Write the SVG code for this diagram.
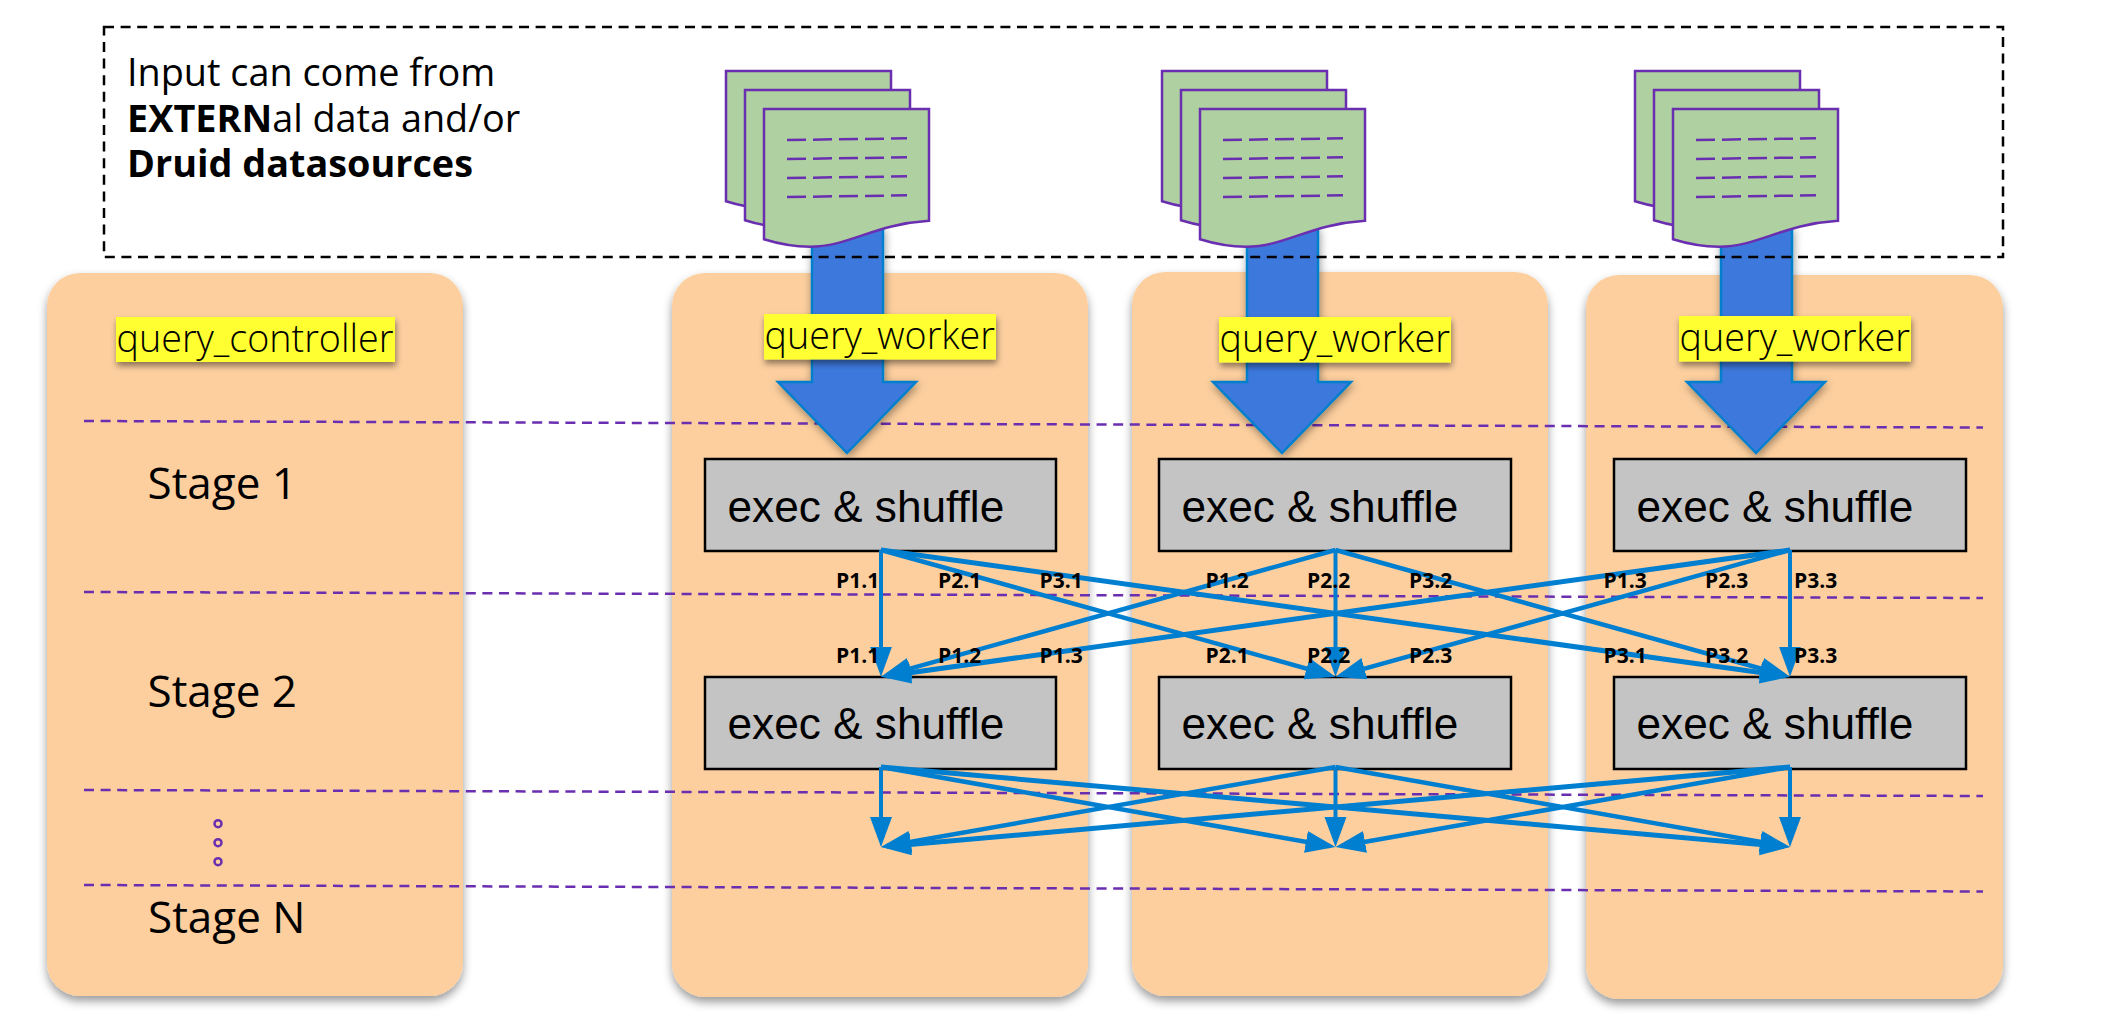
<svg xmlns="http://www.w3.org/2000/svg" width="2128" height="1016" viewBox="0 0 2128 1016">
<style>
.card{fill:#FDCF9E;filter:url(#cs)}
.box{fill:#C4C4C4;stroke:#000;stroke-width:2.5}
.tag{fill:#FFFF33;filter:url(#ts)}
.bigarrow{fill:#3C78DC;stroke:#0080CC;stroke-width:2.5;filter:url(#as)}
.doc{fill:#AFD0A0;stroke:#6A2FB0;stroke-width:2.5}
.rows{fill:none;stroke:#6A2FB0;stroke-width:2.5;stroke-dasharray:19 7}
.div{stroke:#6A2FB0;stroke-width:2.5;stroke-dasharray:10 6.6;fill:none}
.tagt{font:300 37.7px "Open Sans",sans-serif;fill:#000}
.body{font:400 37.8px "Open Sans",sans-serif;fill:#000}
.stage{font:400 44px "Open Sans",sans-serif;fill:#000}
.exec{font:400 44.2px "Liberation Sans",sans-serif;fill:#000}
.p{font:700 21px "Open Sans",sans-serif;fill:#000}
.c{stroke:#007FD0;stroke-width:4.5;fill:none;marker-end:url(#ah)}
.v{stroke-width:4}
.l{stroke-width:5}
</style>
<defs>
<filter id="cs" x="-10%" y="-10%" width="120%" height="120%"><feDropShadow dx="0" dy="5" stdDeviation="5" flood-color="#000" flood-opacity=".4"/></filter>
<filter id="ts" x="-10%" y="-20%" width="120%" height="150%"><feDropShadow dx="1" dy="4" stdDeviation="3" flood-color="#000" flood-opacity=".45"/></filter>
<filter id="as" x="-20%" y="-10%" width="140%" height="120%"><feDropShadow dx="1" dy="3" stdDeviation="4" flood-color="#000" flood-opacity=".4"/></filter>
<marker id="ah" markerUnits="userSpaceOnUse" markerWidth="32" markerHeight="24" refX="24" refY="11" orient="auto"><path d="M0 0L30 11L0 22Z" fill="#007FD0"/></marker>
<g id="pages">
<path class="doc" d="M0 0H165V111.7C110 115 85 137.7 46 137.7C30 137.7 15 135 0 130.3Z" transform="translate(726 71)"/>
<path class="doc" d="M0 0H165V111.7C110 115 85 137.7 46 137.7C30 137.7 15 135 0 130.3Z" transform="translate(745 90)"/>
<path class="doc" d="M0 0H165V111.7C110 115 85 137.7 46 137.7C30 137.7 15 135 0 130.3Z" transform="translate(764 109)"/>
<path class="rows" d="M787 140L907 138.300M787 159L907 157.300M787 178L907 176.300M787 197L907 195.300"/>
</g>
</defs>

<g id="query_controller"><rect class="card" x="47" y="273" width="416" height="723" rx="33"/></g>
<g id="worker1"><rect class="card" x="672" y="273" width="416" height="724" rx="33"/></g>
<g id="worker2"><rect class="card" x="1132" y="272" width="416" height="724" rx="33"/></g>
<g id="worker3"><rect class="card" x="1586" y="275" width="417" height="724" rx="33"/></g>

<g id="stage-dividers">
<path class="div" d="M84 421L1983 427.500"/>
<path class="div" d="M84 592L1983 598"/>
<path class="div" d="M84 790L1983 796"/>
<path class="div" d="M84 885L1983 891.500"/>
</g>

<g id="input-arrows">
<path id="input1" class="bigarrow" d="M812 228H883V382H916L847 453L778 382H812Z"/>
<path id="input2" class="bigarrow" d="M1247 228H1318V382H1351L1282 453L1213 382H1247Z"/>
<path id="input3" class="bigarrow" d="M1721 228H1792V382H1825L1756 453L1687 382H1721Z"/>
</g>

<g id="input-region">
<rect x="104" y="27" width="1899" height="230" fill="none" stroke="#000" stroke-width="2.5" stroke-dasharray="10 6.6"/>
<text class="body" x="127" y="86">Input can come from</text>
<text class="body" x="127" y="132"><tspan font-weight="700">EXTERN</tspan>al data and/or</text>
<text class="body" x="127" y="177" style="font-weight:700">Druid datasources</text>
</g>
<g id="source1"><use href="#pages"/></g>
<g id="source2"><use href="#pages" x="436"/></g>
<g id="source3"><use href="#pages" x="909"/></g>

<g id="label-controller"><rect class="tag" x="116" y="317" width="279" height="45"/><text class="tagt" x="116.500" y="352">query_controller</text></g>
<g id="label-worker1"><rect class="tag" x="764" y="314" width="232" height="45.500"/><text class="tagt" x="764.500" y="349">query_worker</text></g>
<g id="label-worker2"><rect class="tag" x="1219" y="317" width="232" height="45.500"/><text class="tagt" x="1219.500" y="352">query_worker</text></g>
<g id="label-worker3"><rect class="tag" x="1679" y="316" width="232" height="45.500"/><text class="tagt" x="1679.500" y="351">query_worker</text></g>

<g id="stage-1"><text class="stage" x="147.500" y="499">Stage 1</text></g>
<g id="stage-2"><text class="stage" x="147.500" y="707">Stage 2</text></g>
<g id="stage-ellipsis" fill="none" stroke="#6A2FB0" stroke-width="2.5"><circle cx="218" cy="823.700" r="3.500"/><circle cx="218" cy="842.700" r="3.500"/><circle cx="218" cy="861.700" r="3.500"/></g>
<g id="stage-n"><text class="stage" x="148" y="933">Stage N</text></g>

<g id="exec-1-1"><rect class="box" x="705" y="459" width="351" height="92"/><text class="exec" x="727.500" y="522">exec &amp; shuffle</text></g>
<g id="exec-1-2"><rect class="box" x="1159" y="459" width="352" height="92"/><text class="exec" x="1181.500" y="522">exec &amp; shuffle</text></g>
<g id="exec-1-3"><rect class="box" x="1614" y="459" width="352" height="92"/><text class="exec" x="1636.500" y="522">exec &amp; shuffle</text></g>
<g id="exec-2-1"><rect class="box" x="705" y="677" width="351" height="92"/><text class="exec" x="727.500" y="739">exec &amp; shuffle</text></g>
<g id="exec-2-2"><rect class="box" x="1159" y="677" width="352" height="92"/><text class="exec" x="1181.500" y="739">exec &amp; shuffle</text></g>
<g id="exec-2-3"><rect class="box" x="1614" y="677" width="352" height="92"/><text class="exec" x="1636.500" y="739">exec &amp; shuffle</text></g>

<g id="connectors">
<path class="c v" d="M881 550L881 670.700"/>
<path class="c" d="M881 550L1329.700 675.100"/>
<path class="c l" d="M881 550L1784.100 675.900"/>
<path class="c" d="M1335.500 550L886.800 675.100"/>
<path class="c v" d="M1335.500 550L1335.500 670.700"/>
<path class="c" d="M1335.500 550L1784.200 675.100"/>
<path class="c l" d="M1790 550L886.900 675.900"/>
<path class="c" d="M1790 550L1341.300 675.100"/>
<path class="c v" d="M1790 550L1790 670.700"/>
<path class="c v" d="M881 767L881 841"/>
<path class="c" d="M881 767L1329.600 846"/>
<path class="c l" d="M881 767L1784 846.500"/>
<path class="c" d="M1335.500 767L886.900 846"/>
<path class="c v" d="M1335.500 767L1335.500 841"/>
<path class="c" d="M1335.500 767L1784.100 846"/>
<path class="c l" d="M1790 767L887 846.500"/>
<path class="c" d="M1790 767L1341.400 846"/>
<path class="c v" d="M1790 767L1790 841"/>
</g>

<g id="partition-labels">
<text class="p" x="836" y="588">P1.1</text><text class="p" x="938" y="588">P2.1</text><text class="p" x="1039.500" y="588">P3.1</text>
<text class="p" x="1205.500" y="588">P1.2</text><text class="p" x="1307" y="588">P2.2</text><text class="p" x="1409" y="588">P3.2</text>
<text class="p" x="1603.500" y="588">P1.3</text><text class="p" x="1705" y="588">P2.3</text><text class="p" x="1794" y="588">P3.3</text>
<text class="p" x="836" y="663">P1.1</text><text class="p" x="938" y="663">P1.2</text><text class="p" x="1039.500" y="663">P1.3</text>
<text class="p" x="1205.500" y="663">P2.1</text><text class="p" x="1307" y="663">P2.2</text><text class="p" x="1409" y="663">P2.3</text>
<text class="p" x="1603.500" y="663">P3.1</text><text class="p" x="1705" y="663">P3.2</text><text class="p" x="1794" y="663">P3.3</text>
</g>
</svg>
